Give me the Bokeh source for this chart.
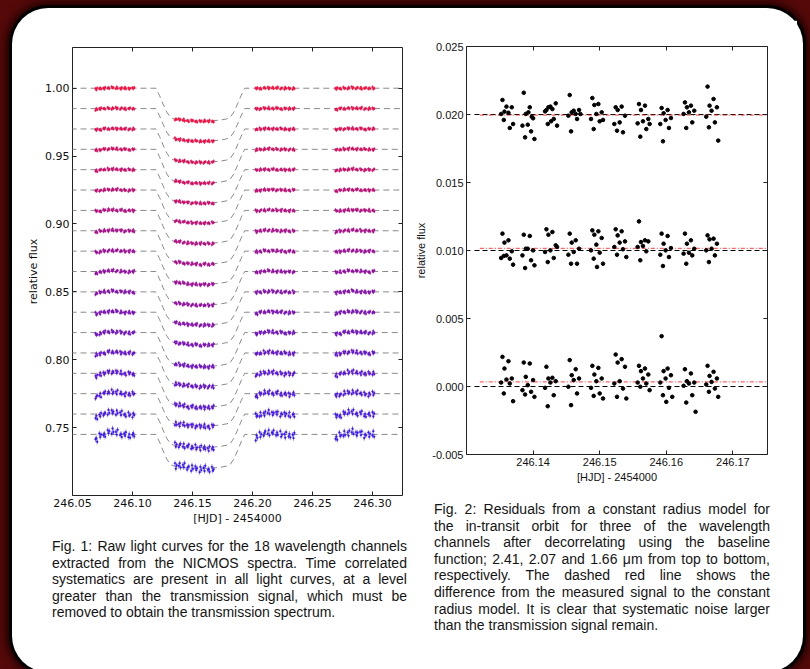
import numpy as np
from bokeh.plotting import figure
from bokeh.models import (LinearAxis, FixedTicker, PrintfTickFormatter, Div,
                          Column, Row, ColumnDataSource)
from bokeh.embed import file_html
from bokeh.resources import INLINE

# ------------------------------------------------------------------ data: Fig. 1
channel_levels = [1.000, 0.985, 0.970, 0.955, 0.940, 0.925, 0.910, 0.895, 0.880,
                  0.865, 0.850, 0.835, 0.820, 0.805, 0.790, 0.775, 0.760, 0.745]
transit_depths = [0.0243, 0.0240, 0.0246, 0.0250, 0.0247, 0.0243, 0.0244, 0.0246, 0.0245,
                  0.0248, 0.0244, 0.0241, 0.0250, 0.0246, 0.0250, 0.0239, 0.0247, 0.0251]
noise_levels = [0.0009, 0.0009, 0.0009, 0.0009, 0.0009, 0.0009, 0.0010, 0.0010, 0.0010,
                0.0010, 0.0011, 0.0011, 0.0012, 0.0013, 0.0015, 0.0017, 0.0020, 0.0024]
trend_scale = [0.15, 0.15, 0.15, 0.2, 0.2, 0.2, 0.2, 0.25, 0.25,
               0.3, 0.3, 0.35, 0.4, 0.45, 0.55, 0.65, 0.8, 1.0]
error_sizes = [0.0012, 0.0012, 0.0012, 0.0012, 0.0012, 0.0012, 0.0012, 0.0013, 0.0013,
               0.0013, 0.0013, 0.0014, 0.0014, 0.0015, 0.0016, 0.0017, 0.0018, 0.0020]
orbit_starts = [246.0690, 246.1352, 246.2025, 246.2690]
cluster_offsets = [0.0000, 0.0032, 0.0066, 0.0101, 0.0135, 0.0170, 0.0205, 0.0239, 0.0274, 0.0308]
sample_offsets = [0.0002, 0.0009, 0.0016]
orbit_trends = [
    [-0.0035, -0.0015, 0.0005, 0.0015, 0.0020, 0.0015, 0.0005, -0.0005, -0.0005, -0.0005],
    [0.0005, 0.0010, 0.0010, 0.0005, 0.0000, 0.0000, -0.0005, -0.0005, -0.0010, -0.0010],
    [-0.0020, -0.0005, 0.0010, 0.0015, 0.0010, 0.0005, 0.0000, -0.0005, -0.0010, -0.0005],
    [-0.0025, -0.0010, 0.0005, 0.0015, 0.0020, 0.0010, 0.0005, -0.0005, -0.0005, 0.0000],
]
scatter_pattern = [0.3, -0.8, 0.9, -0.2, 0.6, -0.5, 0.1, -0.9, 0.7, -0.3, 0.4, -0.6, 1.0, -0.1,
                   0.2, -0.7, 0.8, -0.4, 0.0, -1.0, 0.5, -0.2, 0.9, -0.6, 0.3, -0.8, 0.1, 0.6,
                   -0.4, 0.7, -0.9, 0.2, -0.1, 0.8, -0.5, 0.4, -0.3, 1.0, -0.7, 0.0]
model_times = [246.040, 246.1195, 246.1225, 246.1255, 246.1285, 246.1315, 246.1345, 246.140,
               246.147, 246.1565, 246.166, 246.173, 246.1785, 246.1815, 246.1845, 246.1875,
               246.1905, 246.1935, 246.340]
model_shape = [0.0, 0.0, 0.22, 0.48, 0.72, 0.88, 0.93, 0.965, 0.99, 1.0, 0.99, 0.965, 0.93,
               0.88, 0.72, 0.48, 0.22, 0.0, 0.0]

x1_ticks = [246.05, 246.10, 246.15, 246.20, 246.25, 246.30]
y1_ticks = [0.75, 0.80, 0.85, 0.90, 0.95, 1.00]

# ------------------------------------------------------------------ data: Fig. 2
resid_dt = [0.0002, 0.0011, 0.0005, 0.0016, 0.0008, 0.0000, 0.0013, 0.0004, 0.0018, 0.0009, 0.0014]
resid_241 = [
    [0.02107, 0.02013, 0.02021, 0.02053, 0.02058, 0.02004, 0.01901, 0.01960, 0.01930],
    [0.02160, 0.02053, 0.02004, 0.01972, 0.01925, 0.01918, 0.01876, 0.01832, 0.01820, 0.02016, 0.01984],
    [0.02033, 0.02040, 0.02053, 0.02082, 0.02058, 0.02023, 0.01967, 0.01930, 0.01918, 0.01950],
    [0.02143, 0.02004, 0.02016, 0.02033, 0.02028, 0.01991, 0.01967, 0.01876, 0.02004],
    [0.02121, 0.02077, 0.02070, 0.02016, 0.02004, 0.01967, 0.01950, 0.01893, 0.01960],
    [0.02053, 0.02058, 0.02033, 0.01991, 0.01942, 0.01930, 0.01869, 0.01881],
    [0.02077, 0.02065, 0.02033, 0.01967, 0.01950, 0.01935, 0.01893, 0.01837, 0.01930],
    [0.02048, 0.02033, 0.02009, 0.01974, 0.01960, 0.01930, 0.01901, 0.01803],
    [0.02089, 0.02065, 0.02053, 0.02028, 0.02016, 0.02004, 0.01942, 0.01901],
    [0.02205, 0.02114, 0.02065, 0.02053, 0.02028, 0.01984, 0.01942, 0.01906, 0.01808],
]
resid_207 = [
    [0.01124, 0.01075, 0.01058, 0.00994, 0.00964, 0.00945, 0.00940, 0.00960, 0.00896],
    [0.01116, 0.01107, 0.01013, 0.01001, 0.01013, 0.00964, 0.00928, 0.00871, 0.00891],
    [0.01156, 0.01136, 0.01116, 0.01038, 0.01001, 0.00989, 0.00945, 0.00915, 0.01026],
    [0.01124, 0.01075, 0.01058, 0.01013, 0.00989, 0.00969, 0.00903, 0.00903],
    [0.01148, 0.01141, 0.01116, 0.01092, 0.01043, 0.01001, 0.00984, 0.00940, 0.00903, 0.00879],
    [0.01156, 0.01141, 0.01111, 0.01067, 0.01058, 0.01026, 0.01009, 0.00969, 0.00952],
    [0.01214, 0.01075, 0.01062, 0.01067, 0.01033, 0.01026, 0.00994, 0.00928],
    [0.01124, 0.01107, 0.01050, 0.01018, 0.01001, 0.00969, 0.00952, 0.00886],
    [0.01124, 0.01075, 0.01050, 0.01013, 0.00984, 0.00977, 0.00964, 0.00903],
    [0.01111, 0.01087, 0.01082, 0.01050, 0.01013, 0.01001, 0.00964, 0.00915],
]
resid_166 = [
    [0.00218, 0.00186, 0.00132, 0.00059, 0.00051, 0.00029, 0.00022, -0.00051, -0.00108],
    [0.00176, 0.00169, 0.00071, 0.00047, 0.00010, -0.00027, -0.00039, -0.00059, -0.00076],
    [0.00145, 0.00064, 0.00059, 0.00039, 0.00029, -0.00010, -0.00064, -0.00145],
    [0.00194, 0.00127, 0.00083, 0.00059, 0.00047, -0.00002, -0.00051, -0.00137],
    [0.00152, 0.00137, 0.00088, 0.00059, 0.00039, -0.00010, -0.00051, -0.00069, -0.00088],
    [0.00235, 0.00201, 0.00176, 0.00145, 0.00039, 0.00022, -0.00015, -0.00076, -0.00088],
    [0.00152, 0.00132, 0.00113, 0.00088, 0.00059, 0.00029, 0.00022, -0.00002, -0.00027],
    [0.00370, 0.00132, 0.00113, 0.00083, 0.00059, 0.00029, -0.00010, -0.00064, -0.00076, -0.00113],
    [0.00127, 0.00096, 0.00039, 0.00029, 0.00022, 0.00005, -0.00064, -0.00118, -0.00186],
    [0.00152, 0.00108, 0.00078, 0.00059, 0.00034, 0.00015, -0.00015, -0.00039, -0.00076],
]
baseline_levels = [0.020, 0.010, 0.000]
baseline_span = [246.1312, 246.1760]
difference_levels = [0.01995, 0.01015, 0.00034]
difference_span = [246.1320, 246.1760]

x2_ticks = [246.14, 246.15, 246.16, 246.17]
y2_ticks = [-0.005, 0.000, 0.005, 0.010, 0.015, 0.020, 0.025]

caption1 = ["Fig. 1: Raw light curves for the 18 wavelength channels",
            "extracted from the NICMOS spectra. Time correlated",
            "systematics are present in all light curves, at a level",
            "greater than the transmission signal, which must be",
            "removed to obtain the transmission spectrum."]
caption2 = ["Fig. 2: Residuals from a constant radius model for",
            "the in-transit orbit for three of the wavelength",
            "channels after decorrelating using the baseline",
            "function; 2.41, 2.07 and 1.66 \u03bcm from top to bottom,",
            "respectively. The dashed red line shows the",
            "difference from the measured signal to the constant",
            "radius model. It is clear that systematic noise larger",
            "than the transmission signal remain."]


def channel_colour(i):
    f = i / 17.0
    r = int(round(255 + (50 - 255) * f))
    g = int(round(10 + (20 - 10) * f))
    b = int(round(60 + (255 - 60) * f))
    return "#%02x%02x%02x" % (r, g, b)


def style_axes(p, font, size, xt, yt, xfmt, yfmt, xlabel, ylabel):
    p.grid.visible = False
    p.outline_line_color = "#222222"
    p.outline_line_width = 1
    p.background_fill_color = "white"
    p.border_fill_color = "white"
    xa = p.below[0]
    ya = p.left[0]
    xa.axis_label = xlabel
    ya.axis_label = ylabel
    for ax, tk, fm in ((xa, xt, xfmt), (ya, yt, yfmt)):
        ax.ticker = FixedTicker(ticks=tk)
        ax.formatter = PrintfTickFormatter(format=fm)
        ax.major_tick_in = 4
        ax.major_tick_out = 0
        ax.major_tick_line_color = "#222222"
        ax.minor_tick_line_color = None
        ax.axis_line_color = None
        ax.major_label_text_font = font
        ax.major_label_text_font_size = size
        ax.major_label_text_color = "#111111"
        ax.axis_label_text_font = font
        ax.axis_label_text_font_size = size
        ax.axis_label_text_font_style = "normal"
        ax.axis_label_text_color = "#111111"
        ax.major_label_standoff = 3
        ax.axis_label_standoff = 2
    for loc, tk in (("above", xt), ("right", yt)):
        ax = LinearAxis(ticker=FixedTicker(ticks=tk), major_tick_in=4, major_tick_out=0,
                        major_tick_line_color="#222222", minor_tick_line_color=None,
                        axis_line_color=None, major_label_text_color=None,
                        major_label_text_font_size="1px", major_label_standoff=0)
        p.add_layout(ax, loc)


# ------------------------------------------------------------------ Fig. 1
p1 = figure(width=390, height=515, x_range=(246.05, 246.325), y_range=(0.70, 1.03),
            output_backend="svg", toolbar_location=None,
            min_border_left=50, min_border_right=10, min_border_top=27, min_border_bottom=40)
style_axes(p1, "DejaVu Sans", "11px", x1_ticks, y1_ticks, "%.2f", "%.2f",
           "[HJD] - 2454000", "relative flux")

model_x = []
model_y = []
pt_t, pt_f, pt_lo, pt_hi, pt_c = [], [], [], [], []
for ch in range(18):
    level = channel_levels[ch]
    depth = transit_depths[ch]
    model_x.append(model_times)
    model_y.append([level - depth * s for s in model_shape])
    col = channel_colour(ch)
    for o in range(4):
        for c in range(10):
            for k, dt in enumerate(sample_offsets):
                t = orbit_starts[o] + cluster_offsets[c] + dt
                m = level - depth * float(np.interp(t, model_times, model_shape))
                j = scatter_pattern[(o * 30 + c * 3 + k + 7 * ch) % 40]
                f = m + trend_scale[ch] * orbit_trends[o][c] + noise_levels[ch] * j
                pt_t.append(t)
                pt_f.append(f)
                pt_lo.append(f - error_sizes[ch])
                pt_hi.append(f + error_sizes[ch])
                pt_c.append(col)

p1.multi_line(xs=model_x, ys=model_y, line_color="#8a8a8a", line_width=1, line_dash="6 4")
src1 = ColumnDataSource(dict(t=pt_t, f=pt_f, lo=pt_lo, hi=pt_hi, c=pt_c))
p1.segment(x0="t", x1="t", y0="lo", y1="hi", source=src1, line_color="c", line_width=0.7,
           line_alpha=0.7)
p1.scatter(x="t", y="f", source=src1, size=1.8, marker="circle", fill_color="c",
           line_color="c", line_width=0.5)

# ------------------------------------------------------------------ Fig. 2
p2 = figure(width=385, height=468, x_range=(246.130, 246.1752), y_range=(-0.005, 0.025),
            output_backend="svg", toolbar_location=None,
            min_border_left=51, min_border_right=30, min_border_top=26, min_border_bottom=34)
style_axes(p2, "Liberation Sans", "11px", x2_ticks, y2_ticks, "%.2f", "%.3f",
           "[HJD] - 2454000", "relative flux")

p2.segment(x0=[baseline_span[0]] * 3, x1=[baseline_span[1]] * 3,
           y0=baseline_levels, y1=baseline_levels,
           line_color="black", line_width=1, line_dash="5 3")
p2.segment(x0=[difference_span[0]] * 3, x1=[difference_span[1]] * 3,
           y0=difference_levels, y1=difference_levels,
           line_color="#ff3030", line_alpha=0.75, line_width=1.2, line_dash="4 2 1 2")

rx, ry = [], []
for series in (resid_241, resid_207, resid_166):
    for c, vals in enumerate(series):
        for j, v in enumerate(vals):
            rx.append(orbit_starts[1] + cluster_offsets[c] + resid_dt[j % len(resid_dt)])
            ry.append(v)
p2.scatter(x=rx, y=ry, size=3.6, marker="circle", fill_color="black", line_color="black")

# ------------------------------------------------------------------ captions


def caption_html(lines, width):
    out = ['<div style="width:%dpx;">' % width]
    for i, ln in enumerate(lines):
        if i < len(lines) - 1:
            words = "".join("<span>%s</span>" % w for w in ln.split(" "))
            out.append('<div style="display:flex;justify-content:space-between;'
                       'white-space:nowrap;width:%dpx;">%s</div>' % (width, words))
        else:
            out.append('<div style="white-space:nowrap;">%s</div>' % ln)
    out.append("</div>")
    return "".join(out)


cap_style = {"font-family": "'Liberation Sans', Arial, sans-serif", "font-size": "14px",
             "line-height": "16.6px", "color": "#141414"}
cap1 = Div(text=caption_html(caption1, 355), width=355, height=90, margin=(3, 0, 0, 30),
           styles=cap_style)
cap2 = Div(text=caption_html(caption2, 336), width=336, height=140, margin=(13, 0, 0, 22),
           styles=cap_style)

colL = Column(children=[p1, cap1], margin=(12, 0, 0, 10))
colR = Column(children=[p2, cap2], margin=(12, 0, 0, 0))
panel = Row(children=[colL, colR], width=791, height=664, margin=(8, 0, 0, 12),
            styles={"background-color": "white", "border-radius": "36px",
                    "box-shadow": "0 0 0 3px #000000, 0 0 8px 6px #1c0000"})
outer = Column(children=[panel], width=810, height=669,
               styles={"background-color": "#560909", "overflow": "hidden"})

open("out.html", "w").write(file_html(outer, INLINE))
